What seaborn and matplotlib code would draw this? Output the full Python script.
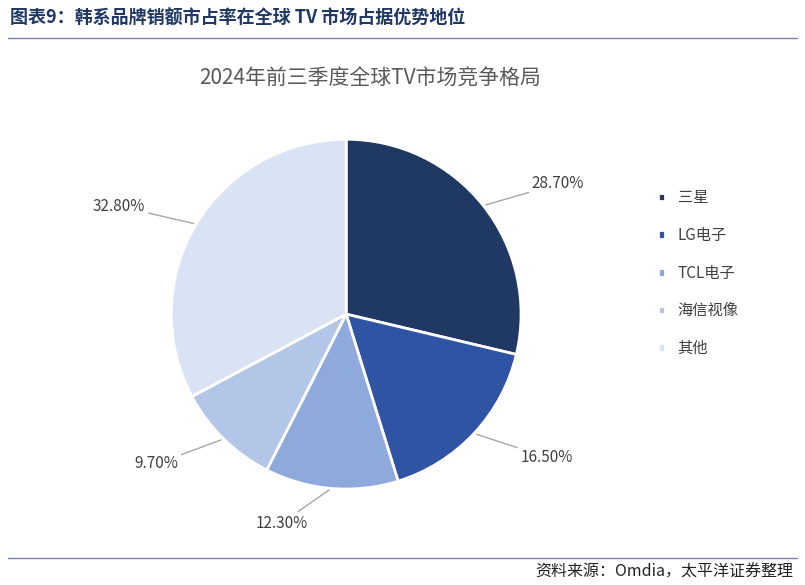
import numpy as np
import matplotlib.pyplot as plt
import seaborn as sns

brands = ['三星', 'LG电子', 'TCL电子', '海信视像', '其他']
shares = [28.7, 16.5, 12.3, 9.7, 32.8]
colors = ['#1F3864', '#2F54A3', '#8EA9DB', '#B4C6E7', '#DAE3F3']

sns.set_theme(style="white")
plt.rcParams['font.family'] = ['Noto Sans CJK SC', 'DejaVu Sans']

fig = plt.figure(figsize=(8.05, 5.85), dpi=100)

# header / footer
fig.text(0.012, 0.968, '图表9：韩系品牌销额市占率在全球 TV 市场占据优势地位',
         fontsize=13, color='#1F3864', va='center', fontweight='bold')
fig.add_artist(plt.Line2D([0.01, 0.99], [0.935, 0.935], color='#7F7FBF', lw=1))
fig.add_artist(plt.Line2D([0.01, 0.99], [0.046, 0.046], color='#7F7FBF', lw=1))
fig.text(0.985, 0.022, '资料来源：Omdia，太平洋证券整理', fontsize=11.5,
         ha='right', va='center', style='italic', color='#222222')
fig.text(0.46, 0.865, '2024年前三季度全球TV市场竞争格局', fontsize=15,
         ha='center', va='center', color='#595959')

ax = fig.add_axes([0.43 - 0.2174, 0.463 - 0.299, 0.4348, 0.598])
wedges, _ = ax.pie(shares, colors=colors, startangle=90, counterclock=False,
                   wedgeprops=dict(edgecolor='white', linewidth=2))
ax.set_aspect('equal')
ax.set_xlim(-1, 1)
ax.set_ylim(-1, 1)
ax.set_autoscale_on(False)

for w, v in zip(wedges, shares):
    ang = np.deg2rad((w.theta1 + w.theta2) / 2)
    x, y = np.cos(ang), np.sin(ang)
    tx, ty = 1.2 * x + (0.12 if x > 0 else -0.12), 1.2 * y
    ax.annotate(f'{v:.2f}%', xy=(x, y), xytext=(tx, ty),
                ha='left' if x > 0 else 'right', va='center', fontsize=11,
                color='#404040', annotation_clip=False,
                arrowprops=dict(arrowstyle='-', color='#A6A6A6', lw=1,
                                shrinkA=0, shrinkB=2))

fig.legend(wedges, brands, loc='center left', bbox_to_anchor=(0.8, 0.533),
           frameon=False, fontsize=11, handlelength=0.5, handleheight=0.5,
           labelspacing=1.35, labelcolor='#404040')

fig.savefig('out.png', dpi=100)
